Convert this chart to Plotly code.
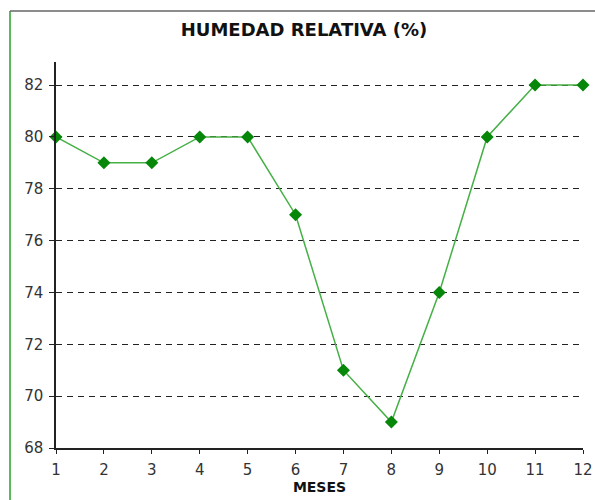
import plotly.graph_objects as go

meses = [1, 2, 3, 4, 5, 6, 7, 8, 9, 10, 11, 12]
humedad = [80, 79, 79, 80, 80, 77, 71, 69, 74, 80, 82, 82]
y_ticks = [68, 70, 72, 74, 76, 78, 80, 82]

W, H = 595, 500
L, R, T, B = 56, 12, 62, 52
PW, PH = W - L - R, H - T - B

fig = go.Figure()
fig.add_trace(go.Scatter(
    x=meses, y=humedad, mode="lines+markers",
    line=dict(color="#45b045", width=1.5),
    marker=dict(symbol="diamond", size=10, color="#07870a"),
    showlegend=False, cliponaxis=False,
))

tick_font = dict(family="DejaVu Sans, sans-serif", size=15, color="#333333")
fig.update_layout(
    width=W, height=H,
    margin=dict(l=L, r=R, t=T, b=B, autoexpand=False),
    paper_bgcolor="white", plot_bgcolor="white",
    font=dict(family="DejaVu Sans, sans-serif", color="#333333", size=13),
    title=dict(text="<b>HUMEDAD RELATIVA (%)</b>", xref="container",
               x=304 / W, xanchor="center",
               y=1 - 30 / H, yanchor="middle",
               font=dict(family="DejaVu Sans, sans-serif", size=18, color="#111111")),
    xaxis=dict(range=[1, 12], tickvals=meses, showgrid=False, zeroline=False,
               automargin=False,
               showline=True, linecolor="#222222", linewidth=1.5,
               ticks="outside", ticklen=4, tickcolor="#222222",
               ticklabelstandoff=3, tickfont=tick_font,
               title=dict(text="<b>MESES</b>", standoff=3,
                          font=dict(family="DejaVu Sans, sans-serif", size=14, color="#111111"))),
    yaxis=dict(range=[68, 82.89], tickvals=y_ticks, showgrid=True,
               automargin=False,
               gridcolor="#222222", griddash="6px,5px", gridwidth=1,
               zeroline=False, showline=True, linecolor="#222222", linewidth=1.5,
               ticks="outside", ticklen=5, tickcolor="#222222",
               ticklabelstandoff=3, tickfont=tick_font),
)

# screenshot frame: green left rule and gray top rule
fig.add_shape(type="line", xref="paper", yref="paper",
              x0=(10 - L) / PW, x1=(10 - L) / PW, y0=-B / PH, y1=(H - B - 11) / PH,
              line=dict(color="#5cb85c", width=2))
fig.add_shape(type="line", xref="paper", yref="paper",
              x0=(10 - L) / PW, x1=(W - L) / PW, y0=(H - B - 11) / PH, y1=(H - B - 11) / PH,
              line=dict(color="#666666", width=1.5))

fig.write_html("out.html", config={"displayModeBar": False},
               post_script="document.body.style.margin='0';document.body.style.overflow='hidden';")
